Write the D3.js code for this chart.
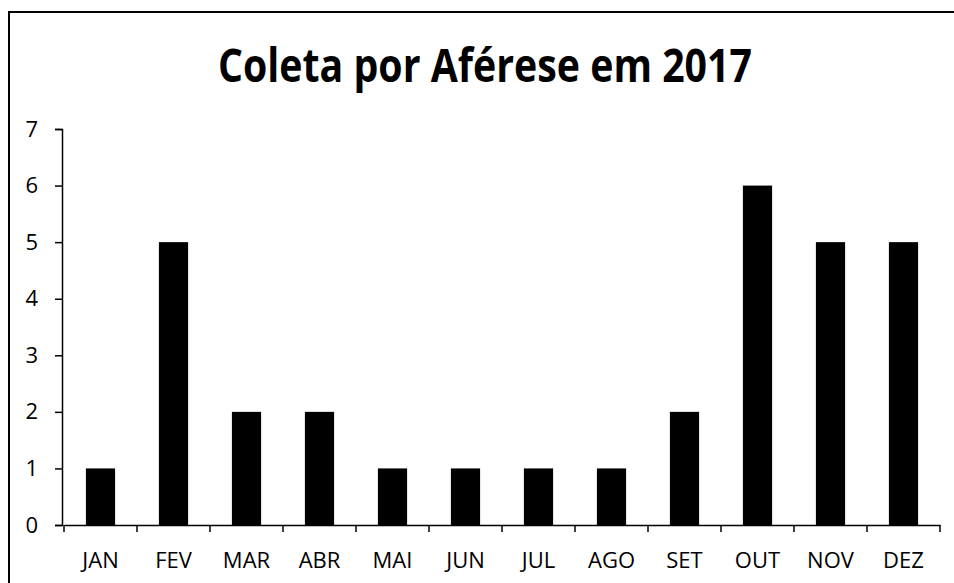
<!DOCTYPE html>
<html>
<head>
<meta charset="utf-8">
<script src="https://cdn.jsdelivr.net/npm/d3@7"></script>
<style>
  body { margin: 0; background: #fff; }
  text { font-family: "Open Sans", sans-serif; fill: #000; }
</style>
</head>
<body>
<script>
// dados
var MESES = ["JAN", "FEV", "MAR", "ABR", "MAI", "JUN", "JUL", "AGO", "SET", "OUT", "NOV", "DEZ"];
var COLETAS = [1, 5, 2, 2, 1, 1, 1, 1, 2, 6, 5, 5];
var TICKS_Y = [0, 1, 2, 3, 4, 5, 6, 7];

var w = 954, h = 583;
var margin = { left: 64, right: 14, top: 129, bottom: 58 };

var svg = d3.select("body").append("svg").attr("width", w).attr("height", h);

// moldura do gráfico
svg.append("path").attr("d", "M9," + h + "V12H" + w)
  .attr("fill", "none").attr("stroke", "#000").attr("stroke-width", 2);

svg.append("text").attr("id", "title")
  .attr("x", 485).attr("y", 82).attr("text-anchor", "middle")
  .style("font-weight", "bold").style("font-size", "46px")
  .attr("textLength", 534).attr("lengthAdjust", "spacingAndGlyphs")
  .text("Coleta por Aférese em 2017");

var x = d3.scaleBand().domain(MESES).range([margin.left, w - margin.right]).paddingInner(0.6).paddingOuter(0.3);
var y = d3.scaleLinear().domain([0, 7]).range([h - margin.bottom, margin.top]);

var xAxis = d3.axisBottom(x).tickSize(0).tickPadding(27);
var gx = svg.append("g").attr("transform", "translate(0," + y(0) + ")").call(xAxis);
gx.select(".domain").attr("stroke", "#000").attr("stroke-width", 1.5);
gx.selectAll("text").style("font-size", "22px");

// marcas entre as categorias
var limites = MESES.map(function (m) { return x(m) - x.step() * x.paddingInner() / 2; });
limites.push(w - margin.right);
gx.selectAll(".lim").data(limites).enter().append("line").attr("class", "lim")
  .attr("x1", function (d) { return d; }).attr("x2", function (d) { return d; })
  .attr("y1", 0).attr("y2", 7).attr("stroke", "#000").attr("stroke-width", 1.5);

var yAxis = d3.axisLeft(y).tickValues(TICKS_Y).tickSize(7).tickPadding(17).tickFormat(d3.format("d"));
var gy = svg.append("g").attr("transform", "translate(" + (margin.left - 2) + ",0)").call(yAxis);
gy.select(".domain").attr("stroke", "#000").attr("stroke-width", 1.5);
gy.selectAll("line").attr("stroke", "#000").attr("stroke-width", 1.5);
gy.selectAll("text").style("font-size", "22px");

svg.selectAll("rect.bar").data(COLETAS).enter().append("rect").attr("class", "bar")
  .attr("x", function (d, i) { return x(MESES[i]); })
  .attr("y", function (d) { return y(d); })
  .attr("width", x.bandwidth())
  .attr("height", function (d) { return y(0) - y(d); })
  .attr("fill", "#000");
</script>
</body>
</html>
